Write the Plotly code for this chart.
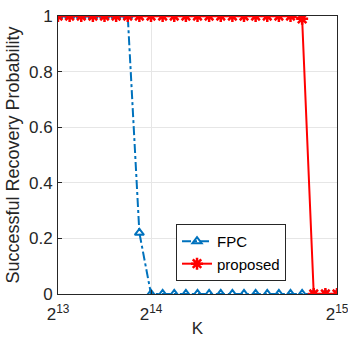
import plotly.graph_objects as go

K = [8192 + 1024 * i for i in range(25)]
fpc = [1, 1, 1, 1, 1, 1, 1, 0.22] + [0] * 17
proposed = [1] * 21 + [0.99] + [0, 0, 0]

x_ticks = [8192, 16384, 32768]
x_tick_text = ["2<sup>13</sup>", "2<sup>14</sup>", "2<sup>15</sup>"]
y_ticks = [0, 0.2, 0.4, 0.6, 0.8, 1]
y_tick_text = ["0", "0.2", "0.4", "0.6", "0.8", "1"]

FONT = "Liberation Sans, Arial"

fig = go.Figure()
fig.add_trace(go.Scatter(
    x=K, y=fpc, name="FPC", mode="lines+markers",
    line=dict(color="#0072BD", width=2, dash="dashdot"),
    marker=dict(symbol="triangle-up-open", size=8, color="#0072BD",
                line=dict(width=2, color="#0072BD")),
))
fig.add_trace(go.Scatter(
    x=K, y=proposed, name="proposed", mode="lines+markers",
    line=dict(color="#FF0000", width=2),
    marker=dict(symbol="asterisk-open", size=10, color="#FF0000",
                line=dict(width=2.5, color="#FF0000")),
))

axis_common = dict(
    showline=True, mirror=True, linecolor="#262626", linewidth=1,
    ticks="inside", ticklen=4, tickcolor="#262626",
    showgrid=True, gridcolor="#e6e6e6", gridwidth=1, zeroline=False,
    automargin=False, ticklabeloverflow="allow",
)
fig.update_xaxes(range=[8192, 32768], tickvals=x_ticks, ticktext=x_tick_text,
                 tickfont=dict(family=FONT, size=17, color="#262626"),
                 ticklabelstandoff=5,
                 title=dict(text="K", font=dict(family=FONT, size=17, color="#262626"), standoff=4),
                 **axis_common)
fig.update_yaxes(range=[0, 1], tickvals=y_ticks, ticktext=y_tick_text,
                 tickfont=dict(family=FONT, size=17, color="#262626"),
                 ticklabelstandoff=1,
                 title=dict(text="Successful Recovery Probability", font=dict(family=FONT, size=18, color="#262626"), standoff=4),
                 **axis_common)
fig.update_layout(
    width=348, height=338,
    margin=dict(l=58, r=11, t=16, b=44),
    plot_bgcolor="white", paper_bgcolor="white",
    legend=dict(x=0.423, y=0.047, xanchor="left", yanchor="bottom",
                bgcolor="white", bordercolor="#262626", borderwidth=1,
                font=dict(family=FONT, size=15, color="black"),
                tracegroupgap=0, itemwidth=30),
    showlegend=True,
)
fig.write_html("out.html")
